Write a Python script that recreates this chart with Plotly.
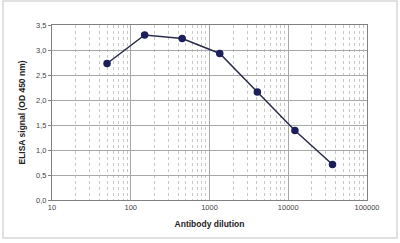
import plotly.graph_objects as go

dilution = [50, 150, 450, 1350, 4050, 12150, 36450]
signal = [2.73, 3.30, 3.23, 2.93, 2.16, 1.39, 0.71]
x_ticks = [10, 100, 1000, 10000, 100000]
x_labels = ["10", "100", "1000", "10000", "100000"]

fig = go.Figure()
fig.add_trace(go.Scatter(
    x=dilution, y=signal, mode="lines+markers",
    line=dict(color="#2a2d4a", width=1.5),
    marker=dict(color="#1c1f5c", size=7.5),
    showlegend=False,
))

fig.update_layout(
    width=400, height=243,
    margin=dict(l=52, r=33, t=25, b=43),
    paper_bgcolor="white", plot_bgcolor="white",
    separators=", ",
    font=dict(family="Liberation Sans, Arial, sans-serif", size=7.5, color="#333333"),
    shapes=[dict(type="rect", xref="paper", yref="paper",
                 x0=-49/315, x1=1 + 30/315, y0=-38/175, y1=1 + 24/175,
                 line=dict(color="#d8d8d8", width=1.5), layer="below")],
)
fig.update_xaxes(
    type="log", range=[1, 5],
    tickvals=x_ticks, ticktext=x_labels,
    showgrid=True, gridcolor="#a8a8a8", gridwidth=1,
    minor=dict(showgrid=True, gridcolor="#c8c8c8", griddash="dot", dtick="D1", ticks=""),
    showline=True, linecolor="#808080", linewidth=1, mirror=True,
    ticks="", zeroline=False,
    title=dict(text="<b>Antibody dilution</b>", font=dict(size=8.5, color="#222222"), standoff=10),
    tickfont=dict(size=7.5, color="#444444"),
)
fig.update_yaxes(
    range=[0, 3.5], dtick=0.5, tickformat=".1f",
    showgrid=True, gridcolor="#a8a8a8", gridwidth=1,
    showline=True, linecolor="#808080", linewidth=1, mirror=True,
    ticks="outside", ticklen=3, tickcolor="#808080",
    zeroline=False,
    title=dict(text="<b>ELISA signal (OD 450 nm)</b>", font=dict(size=8.5, color="#222222"), standoff=9),
    tickfont=dict(size=7.5, color="#444444"),
)

fig.write_html("out.html")
